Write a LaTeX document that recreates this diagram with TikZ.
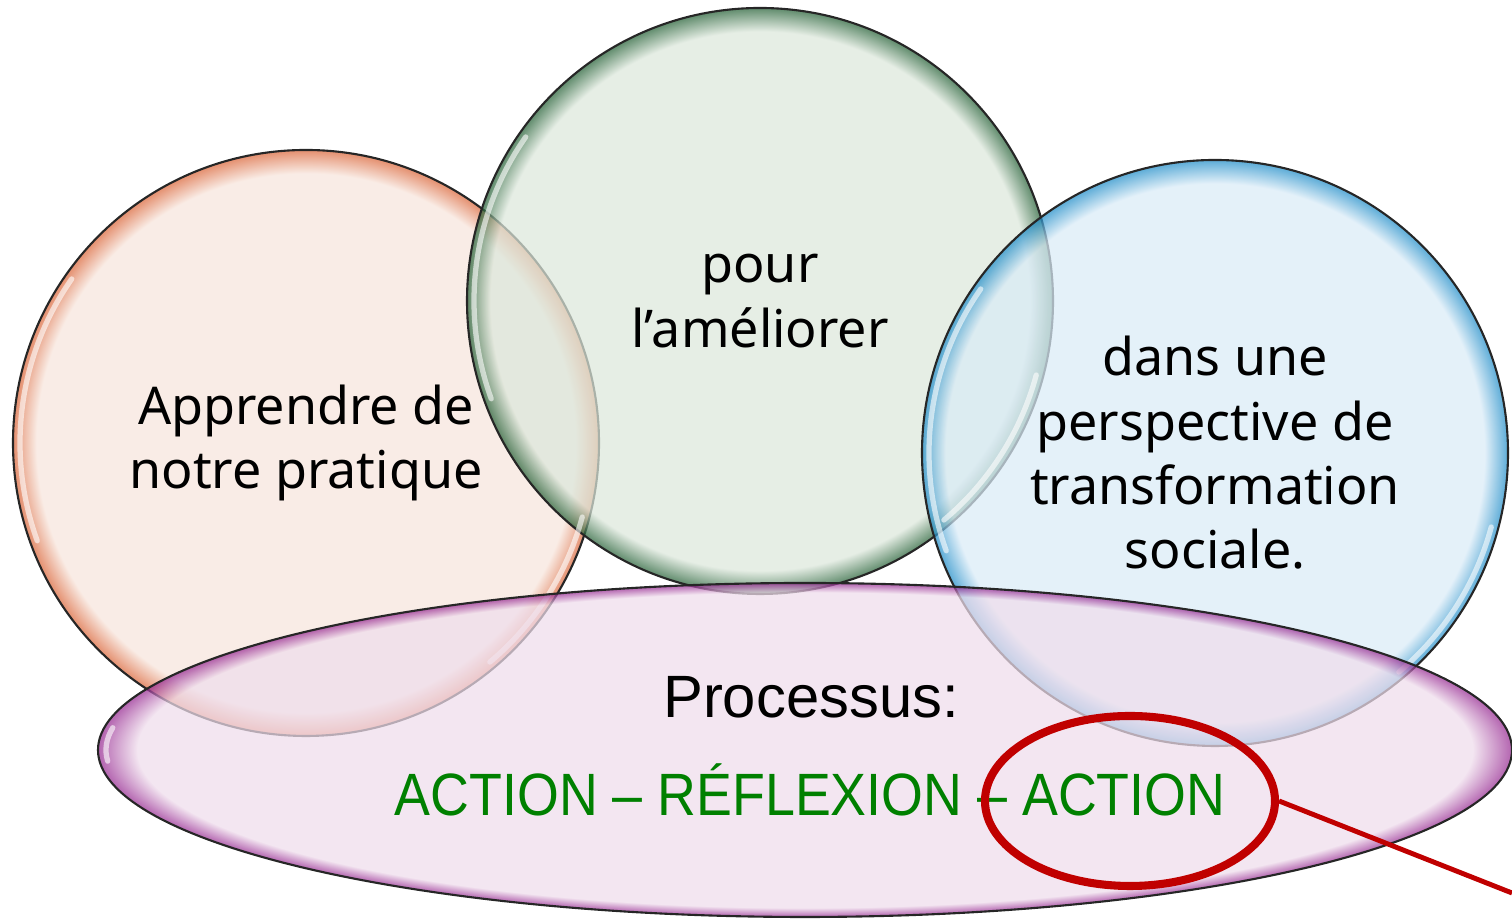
\documentclass[tikz,border=0pt]{standalone}
\usepackage{fontspec}
\setmainfont{Noto Sans}
\newfontfamily\procfont{Liberation Sans}
\newfontfamily\cyclefont[FakeStretch=0.9]{Liberation Sans}
\usetikzlibrary{shapes.geometric, positioning}

\definecolor{orangefill}{RGB}{247,229,220}
\definecolor{orangerim}{RGB}{218,100,55}
\definecolor{greenfill}{RGB}{220,231,219}
\definecolor{greenrim}{RGB}{35,95,52}
\definecolor{bluefill}{RGB}{217,235,247}
\definecolor{bluerim}{RGB}{30,140,200}
\definecolor{purplefill}{RGB}{239,221,236}
\definecolor{purplerim}{RGB}{150,40,145}
\definecolor{ringred}{RGB}{192,0,0}
\definecolor{cyclegreen}{RGB}{0,128,0}

% bubble shadings: light inside, coloured rim
\pgfdeclareradialshading{orangebubble}{\pgfpoint{0bp}{0bp}}{color(0bp)=(orangefill); color(23bp)=(orangefill); color(25bp)=(orangerim); color(50bp)=(orangerim)}
\pgfdeclareradialshading{greenbubble}{\pgfpoint{0bp}{0bp}}{color(0bp)=(greenfill); color(23bp)=(greenfill); color(25bp)=(greenrim); color(50bp)=(greenrim)}
\pgfdeclareradialshading{bluebubble}{\pgfpoint{0bp}{0bp}}{color(0bp)=(bluefill); color(23bp)=(bluefill); color(25bp)=(bluerim); color(50bp)=(bluerim)}
\pgfdeclareradialshading{purplebubble}{\pgfpoint{0bp}{0bp}}{color(0bp)=(purplefill); color(23.6bp)=(purplefill); color(25bp)=(purplerim); color(50bp)=(purplerim)}

\tikzstyle{bubble} = [circle, draw=black!85, line width=0.6pt, inner sep=0pt, minimum size=5.86cm, shade, fill opacity=0.72]
\tikzstyle{bubbletext} = [align=center, font=\fontsize{14.8}{18.3}\selectfont]
\tikzstyle{glint} = [white, line width=1.5pt, line cap=round, opacity=0.6]

\begin{document}
\begin{tikzpicture}
   \useasboundingbox (0,0) rectangle (15.12,9.19);

   % Draw the three bubbles
   \node[bubble, shading=orangebubble] (apprendre) at (3.06,4.76) {};
   \node[bubble, shading=greenbubble] (ameliorer) at (7.60,6.18) {};
   \node[bubble, shading=bluebubble] (transfo) at (12.15,4.66) {};

   % Light reflections on the rims
   \foreach \b in {apprendre, ameliorer, transfo} {
     \draw[glint] ([shift={(145:2.86)}]\b.center) arc[start angle=145, end angle=200, radius=2.86];
     \draw[glint] ([shift={(-15:2.86)}]\b.center) arc[start angle=-15, end angle=-50, radius=2.86];
   }

   % Process ellipse on top
   \node[bubble, ellipse, minimum width=14.14cm, minimum height=3.34cm, shading=purplebubble] (processus) at (8.05,1.69) {};
   \draw[glint] ([shift={(172:6.99 and 1.60)}]processus.center) arc[start angle=172, end angle=184, x radius=6.99, y radius=1.60];

   % Texts
   \node[bubbletext] (apprendretxt) at (apprendre.center) {Apprendre de\\notre pratique};
   \node[bubbletext] (ameliorertxt) at (ameliorer.center) {pour\\l’améliorer};
   \node[bubbletext] (transfotxt) at (transfo.center) {dans une\\perspective de\\transformation\\sociale.};
   \node[anchor=base, font=\procfont\fontsize{17}{20}\selectfont] (proctxt) at (8.11,2.01) {Processus:};
   \node[anchor=base, text=cyclegreen, font=\cyclefont\fontsize{17}{20}\selectfont] (cycletxt) at (8.10,1.03) {ACTION – RÉFLEXION – ACTION};

   % Red ring and pointer line
   \node[ellipse, draw=ringred, line width=2.3pt, minimum width=2.9cm, minimum height=1.7cm, inner sep=0pt] (ring) at (11.30,1.18) {};
   \coordinate (pointer) at (15.12,0.26);
   \draw[ringred, line width=1.4pt] (ring.east) -- (pointer);

\end{tikzpicture}
\end{document}
